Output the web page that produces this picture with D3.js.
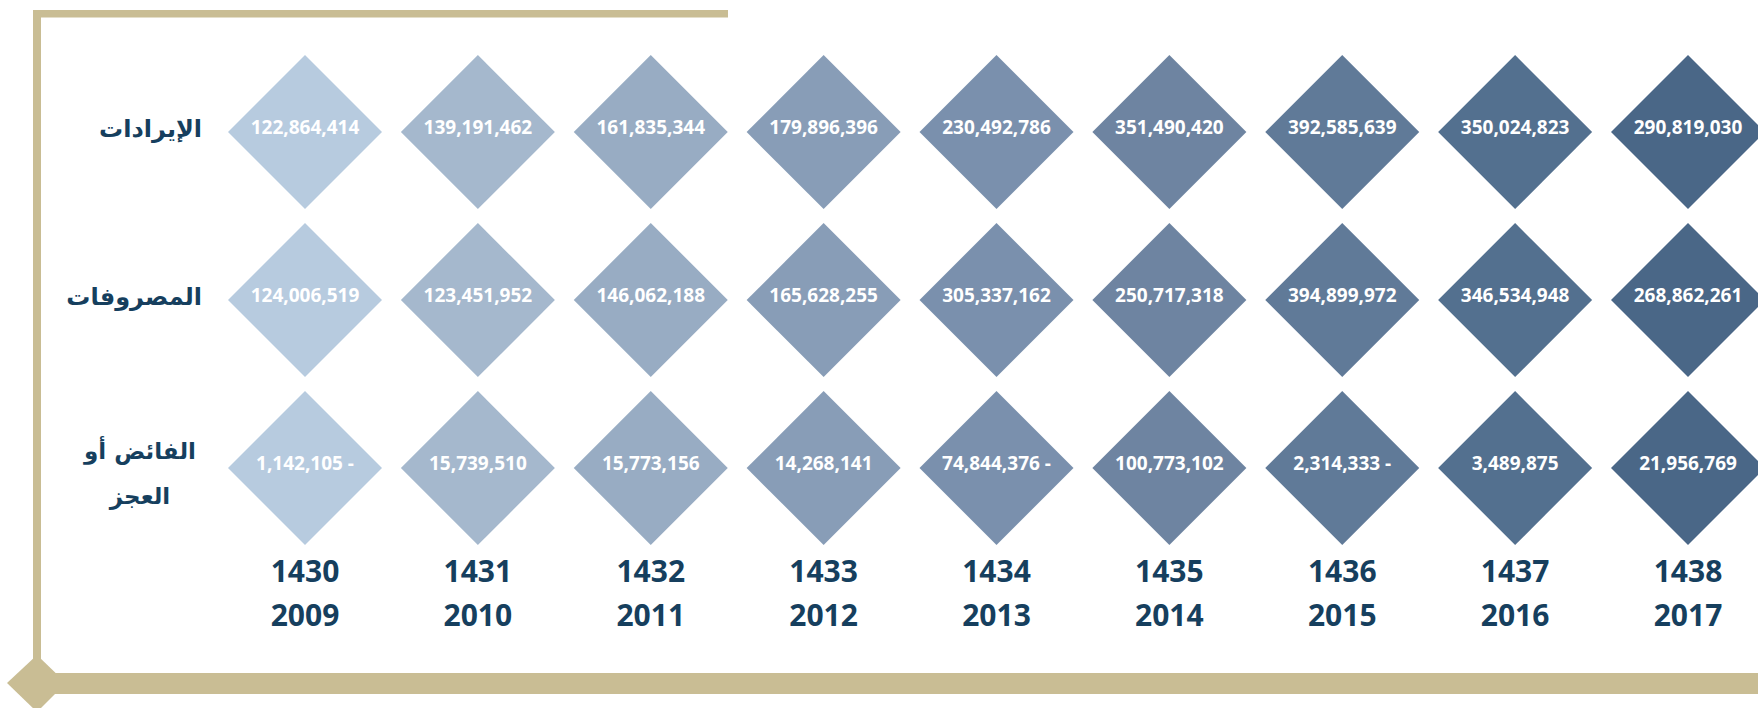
<!DOCTYPE html>
<html>
<head>
<meta charset="utf-8">
<script src="https://cdn.jsdelivr.net/npm/d3@7"></script>
<style>
  html, body { margin: 0; padding: 0; background: #ffffff; }
  svg { display: block; }
</style>
</head>
<body>
<svg id="chart" width="1758" height="708"></svg>
<script>
// ---- data ----
const hijriYears = ["1430", "1431", "1432", "1433", "1434", "1435", "1436", "1437", "1438"];
const gregorianYears = ["2009", "2010", "2011", "2012", "2013", "2014", "2015", "2016", "2017"];
const rowLabels = ["الإيرادات", "المصروفات", "الفائض أو|العجز"];
const revenues = [122864414, 139191462, 161835344, 179896396, 230492786, 351490420, 392585639, 350024823, 290819030];
const expenses = [124006519, 123451952, 146062188, 165628255, 305337162, 250717318, 394899972, 346534948, 268862261];
const surplus = [-1142105, 15739510, 15773156, 14268141, -74844376, 100773102, -2314333, 3489875, 21956769];

// ---- styles ----
const columnColors = ["#b7cbdf", "#a5b8cd", "#98acc3", "#889db7", "#7a90ad", "#6e84a1", "#607a98", "#53708f", "#4a6787"];
const gold = "#c9bd94";
const navy = "#163f5e";

const svg = d3.select("#chart");
const series = [revenues, expenses, surplus];

const x = d3.scalePoint().domain(hijriYears).range([305, 1688]);
const y = d3.scalePoint().domain(d3.range(rowLabels.length)).range([132, 468]);
const half = 77;
const side = half * Math.SQRT2;

// frame
svg.append("rect").attr("x", 33).attr("y", 10).attr("width", 695).attr("height", 7.5).attr("fill", gold);
svg.append("rect").attr("x", 33).attr("y", 10).attr("width", 8).attr("height", 655).attr("fill", gold);
svg.append("rect").attr("x", 37).attr("y", 673).attr("width", 1758 - 37).attr("height", 21).attr("fill", gold);
svg.append("path")
  .attr("d", "M37,655 L66,683 L37,712 L7,683 Z")
  .attr("fill", gold);

const fmt = d3.format(",");
const labelText = v => v < 0 ? fmt(Math.abs(v)) + " -" : fmt(v);

// diamonds
series.forEach((vals, r) => {
  const g = svg.append("g");
  const cells = g.selectAll("g.cell")
    .data(vals.map((v, i) => ({ v, i })))
    .join("g")
    .attr("class", "cell")
    .attr("transform", d => `translate(${x(hijriYears[d.i])},${y(r)})`);
  cells.append("rect")
    .attr("x", -side / 2).attr("y", -side / 2)
    .attr("width", side).attr("height", side)
    .attr("transform", "rotate(45)")
    .attr("fill", d => columnColors[d.i]);
  cells.append("text")
    .attr("x", 0).attr("y", 2)
    .attr("text-anchor", "middle")
    .attr("font-family", "'Open Sans', sans-serif")
    .attr("font-weight", 700)
    .attr("font-size", 19)
    .attr("fill", "#ffffff")
    .text(d => labelText(d.v));
});

// row labels
rowLabels.forEach((lab, r) => {
  const lines = lab.split("|");
  if (lines.length === 1) {
    svg.append("text")
      .attr("x", 202).attr("y", y(r) + 5)
      .attr("text-anchor", "end")
      .attr("font-family", "'DejaVu Sans', sans-serif")
      .attr("font-weight", 700)
      .attr("font-size", 24)
      .attr("fill", navy)
      .text(lab);
  } else {
    lines.forEach((ln, k) => {
      svg.append("text")
        .attr("x", 140).attr("y", y(r) - 9 + k * 45)
        .attr("text-anchor", "middle")
        .attr("font-family", "'DejaVu Sans', sans-serif")
        .attr("font-weight", 700)
        .attr("font-size", 23)
        .attr("fill", navy)
        .text(ln);
    });
  }
});

// year labels
const yearG = svg.append("g");
hijriYears.forEach((h, i) => {
  [h, gregorianYears[i]].forEach((t, k) => {
    yearG.append("text")
      .attr("x", x(h)).attr("y", 582 + k * 44)
      .attr("text-anchor", "middle")
      .attr("font-family", "'Open Sans', sans-serif")
      .attr("font-weight", 700)
      .attr("font-size", 30)
      .attr("fill", navy)
      .text(t);
  });
});
</script>
</body>
</html>
